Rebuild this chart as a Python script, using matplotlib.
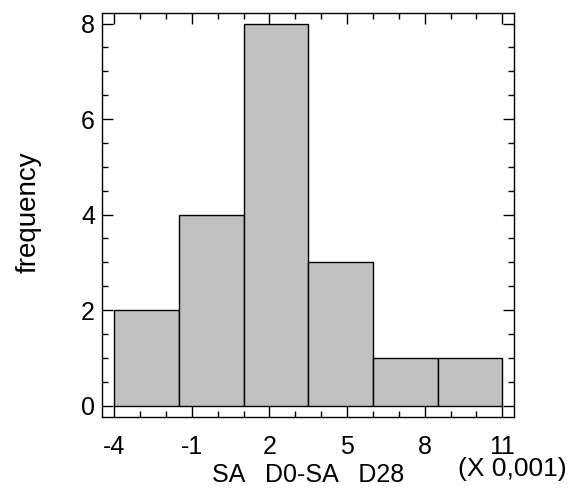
import matplotlib.pyplot as plt
import numpy as np
from matplotlib.ticker import FixedLocator, MultipleLocator

plt.rcParams['font.family'] = ['Liberation Sans', 'DejaVu Sans']
plt.rcParams['axes.unicode_minus'] = False

# histogram of SA D0 - SA D28 (units of 0.001)
bin_edges = [-4.0, -1.5, 1.0, 3.5, 6.0, 8.5, 11.0]
counts = [2, 4, 8, 3, 1, 1]
x_ticks = [-4, -1, 2, 5, 8, 11]

fig = plt.figure(figsize=(5.71, 4.90), dpi=100)
ax = fig.add_axes([102 / 571, 73 / 490, 412 / 571, 404 / 490])

widths = np.diff(bin_edges)
ax.bar(bin_edges[:-1], counts, width=widths, align='edge',
       color='#c0c0c0', edgecolor='black', linewidth=1.0)

ax.set_xlim(-4.47, 11.45)
ax.set_ylim(-0.24, 8.22)

ax.xaxis.set_major_locator(FixedLocator(x_ticks))
ax.xaxis.set_minor_locator(MultipleLocator(1))
ax.yaxis.set_major_locator(MultipleLocator(2))
ax.yaxis.set_minor_locator(MultipleLocator(0.5))

ax.tick_params(which='both', direction='in', top=True, right=True,
               width=1.0, labelsize=18)
ax.tick_params(which='major', length=8)
ax.tick_params(which='minor', length=4)
ax.tick_params(axis='x', which='major', pad=13)
ax.tick_params(axis='y', which='major', pad=5)

for s in ax.spines.values():
    s.set_linewidth(1.0)

ax.set_xlabel('SA   D0-SA   D28', fontsize=18, va='center')
ax.xaxis.set_label_coords(0.5, -0.1436)
ax.set_ylabel('frequency', fontsize=20, va='center')
ax.yaxis.set_label_coords(-0.178, 0.507)

fig.text(567 / 571, (490 - 469) / 490, '(X 0,001)', fontsize=19,
         ha='right', va='center')

fig.savefig('out.png', dpi=100)
